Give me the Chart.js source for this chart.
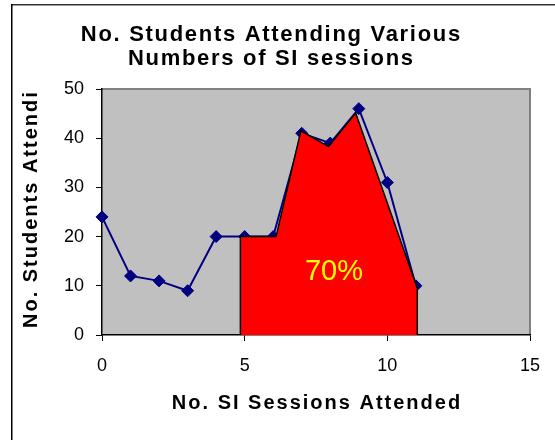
<!DOCTYPE html>
<html>
<head>
<meta charset="utf-8">
<script src="https://cdn.jsdelivr.net/npm/chart.js@4"></script>
<style>
  html, body { margin: 0; padding: 0; background: #fff; }
  #wrap { width: 555px; height: 440px; }
</style>
</head>
<body>
<div id="wrap"><canvas id="c" width="555" height="440"></canvas></div>
<script>
// Attendance counts per number of SI sessions attended
const sessions = [0, 1, 2, 3, 4, 5, 6, 7, 8, 9, 10, 11];
const students = [24, 12, 11, 9, 20, 20, 20, 41, 39, 46, 31, 10];

// Outline of the shaded region (sessions, students)
const shadeX = [4.85, 4.85, 6.1, 6.97, 7.94, 8.89, 11.05, 11.05];
const shadeY = [0, 20, 20, 41.5, 38.3, 45.1, 9.5, 0];
const shadeLabel = '70%';
const shadeLabelAt = [8.13, 11.2];

const xTicks = [0, 5, 10, 15];
const yTicks = [0, 10, 20, 30, 40, 50];
const titleLines = ['No. Students Attending Various', 'Numbers of SI sessions'];
const xTitle = 'No. SI Sessions Attended';
const yTitle = 'No. Students Attending';

const FONT = '"Liberation Sans", Arial, sans-serif';

// Centred text with extra letter spacing
function spacedText(ctx, text, cx, y, spacing) {
  ctx.letterSpacing = '0px';
  const w = ctx.measureText(text).width + spacing * (text.length - 1);
  ctx.letterSpacing = spacing + 'px';
  ctx.textAlign = 'left';
  ctx.fillText(text, cx - w / 2, y);
  ctx.letterSpacing = '0px';
}

const decor = {
  id: 'decor',
  beforeDraw(chart) {
    const { ctx, chartArea: a } = chart;
    ctx.save();
    ctx.fillStyle = '#fff';
    ctx.fillRect(0, 0, chart.width, chart.height);
    ctx.fillStyle = '#C0C0C0';
    ctx.fillRect(a.left, a.top, a.right - a.left, a.bottom - a.top);
    // plot area frame (top and right)
    ctx.fillStyle = '#808080';
    ctx.fillRect(a.left, a.top - 1, a.right - a.left + 1, 2);
    ctx.fillRect(a.right - 1, a.top - 1, 2, a.bottom - a.top + 1);
    // outer chart frame
    ctx.fillStyle = '#333';
    ctx.fillRect(11, 4, chart.width - 11, 1.5);
    ctx.fillStyle = '#000';
    ctx.fillRect(11, 4, 1.5, chart.height - 4);
    ctx.restore();
  },
  afterDraw(chart) {
    const { ctx, chartArea: a, scales } = chart;
    ctx.save();
    ctx.fillStyle = '#000';
    ctx.textBaseline = 'alphabetic';
    // main title
    ctx.font = 'bold 22px ' + FONT;
    spacedText(ctx, titleLines[0], 270.5, 41, 1.7);
    spacedText(ctx, titleLines[1], 270.5, 65, 1.7);
    // x axis title
    ctx.font = 'bold 20px ' + FONT;
    spacedText(ctx, xTitle, (a.left + a.right) / 2, 409, 2);
    // y axis title, cut off at the top of the plot area
    ctx.save();
    ctx.beginPath();
    ctx.rect(0, a.top, a.left, chart.height - a.top);
    ctx.clip();
    ctx.translate(37, 328);
    ctx.rotate(-Math.PI / 2);
    ctx.letterSpacing = '2px';
    ctx.textAlign = 'left';
    ctx.fillText(yTitle, 0, 0);
    ctx.letterSpacing = '0px';
    ctx.restore();
    // share label inside the shaded region
    ctx.font = '29px ' + FONT;
    ctx.fillStyle = '#FFFF00';
    ctx.textAlign = 'center';
    ctx.fillText(shadeLabel,
      scales.x.getPixelForValue(shadeLabelAt[0]),
      scales.y.getPixelForValue(shadeLabelAt[1]));
    ctx.restore();
  }
};

const lineData = sessions.map((s, i) => ({ x: s, y: students[i] }));
const shadeData = shadeX.map((s, i) => ({ x: s, y: shadeY[i] }));

new Chart(document.getElementById('c'), {
  type: 'scatter',
  data: {
    datasets: [
      {
        label: 'shaded',
        data: shadeData,
        showLine: true,
        fill: 'origin',
        backgroundColor: '#FF0000',
        borderColor: '#000',
        borderWidth: 1.5,
        pointRadius: 0,
        tension: 0,
        order: 0
      },
      {
        label: 'students',
        data: lineData,
        showLine: true,
        fill: false,
        borderColor: '#000080',
        borderWidth: 2,
        pointStyle: 'rectRot',
        pointRadius: 6,
        pointBackgroundColor: '#000080',
        pointBorderColor: '#000080',
        pointBorderWidth: 1,
        tension: 0,
        clip: false,
        order: 1
      }
    ]
  },
  options: {
    responsive: false,
    animation: false,
    devicePixelRatio: 1,
    layout: { padding: { top: 89, right: 25, bottom: 0, left: 0 } },
    plugins: {
      legend: { display: false },
      title: { display: false },
      tooltip: { enabled: false }
    },
    scales: {
      x: {
        type: 'linear',
        min: 0,
        max: 15,
        afterBuildTicks(scale) { scale.ticks = xTicks.map(v => ({ value: v })); },
        afterFit(scale) { scale.height = 105; },
        ticks: { font: { family: FONT, size: 18 }, color: '#000', padding: 14, maxRotation: 0 },
        grid: { drawOnChartArea: false, drawTicks: true, tickLength: 6, color: '#000', lineWidth: 1 },
        border: { display: true, color: '#000', width: 1.5 }
      },
      y: {
        type: 'linear',
        min: 0,
        max: 50,
        afterBuildTicks(scale) { scale.ticks = yTicks.map(v => ({ value: v })); },
        afterFit(scale) { scale.width = 102; },
        ticks: { font: { family: FONT, size: 18 }, color: '#000', padding: 12 },
        grid: { drawOnChartArea: false, drawTicks: true, tickLength: 6, color: '#000', lineWidth: 1 },
        border: { display: true, color: '#000', width: 1.5 }
      }
    }
  },
  plugins: [decor]
});
</script>
</body>
</html>
